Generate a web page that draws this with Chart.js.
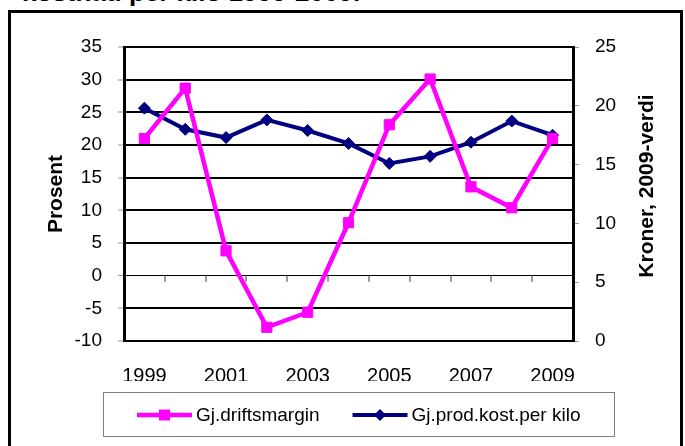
<!DOCTYPE html>
<html>
<head>
<meta charset="utf-8">
<script src="https://cdn.jsdelivr.net/npm/chart.js@4.4.1/dist/chart.umd.min.js"></script>
<style>
    html, body { margin: 0; padding: 0; background: #fff; overflow: hidden; }
    #tittel { position: absolute; left: 22px; top: -21px; font: bold 26px "Liberation Sans", Arial, sans-serif; line-height: 26px; white-space: nowrap; }
    #ramme { position: absolute; left: 8px; top: 10px; width: 669px; height: 470px; border: 3px solid #000; }
    #graf { position: absolute; left: 0; top: 0; }
</style>
</head>
<body>
<div id="tittel">kostnad per kilo 1999-2009.</div>
<div id="ramme"></div>
<canvas id="graf" width="685" height="446"></canvas>
<script>
// År og verdier lest av figuren
const aar = ['1999', '2000', '2001', '2002', '2003', '2004', '2005', '2006', '2007', '2008', '2009'];
const driftsmargin = [21, 28.7, 3.8, -7.9, -5.6, 8.1, 23.1, 30.1, 13.6, 10.4, 21];
const prodKost = [19.8, 18.0, 17.3, 18.8, 17.9, 16.8, 15.1, 15.7, 16.9, 18.7, 17.5];

// Akser
const prosentAkse = { min: -10, max: 35, steg: 5 };
const kronerAkse = { min: 0, max: 25, steg: 5 };
const hoyreTittel = 'Kroner, 2009-verdi';

const FONT = '"Liberation Sans", Arial, sans-serif';

// små grå streker på nullinja mellom kategoriene
const nullStreker = {
    id: 'nullStreker',
    afterDatasetsDraw(chart) {
        const x = chart.scales.x, y = chart.scales.y;
        const y0 = y.getPixelForValue(0);
        const halv = (x.getPixelForValue(1) - x.getPixelForValue(0)) / 2;
        const ctx = chart.ctx;
        ctx.save();
        ctx.strokeStyle = '#999';
        ctx.lineWidth = 2;
        for (let i = 0; i < aar.length - 1; i++) {
            const px = Math.round(x.getPixelForValue(i) + halv);
            ctx.beginPath();
            ctx.moveTo(px, y0);
            ctx.lineTo(px, y0 + 6);
            ctx.stroke();
        }
        ctx.restore();
    }
};

// høyre aksetittel leses nedenfra og opp, som i Excel
const hoyreAkseTittel = {
    id: 'hoyreAkseTittel',
    afterDraw(chart) {
        const ctx = chart.ctx;
        ctx.save();
        ctx.translate(647, 186);
        ctx.rotate(-Math.PI / 2);
        ctx.font = 'bold 21px ' + FONT;
        ctx.fillStyle = '#000';
        ctx.textAlign = 'center';
        ctx.textBaseline = 'middle';
        ctx.fillText(hoyreTittel, 0, 0);
        ctx.restore();
    }
};

// tegnforklaring med ramme
const legendeBoks = {
    id: 'legendeBoks',
    afterDraw(chart) {
        const ctx = chart.ctx;
        ctx.save();
        ctx.strokeStyle = '#808080';
        ctx.lineWidth = 1;
        ctx.strokeRect(103.5, 392.5, 511, 44);
        ctx.font = '19px ' + FONT;
        ctx.textBaseline = 'middle';
        ctx.fillStyle = '#000';
        let x = 137;
        const y = 415;
        chart.data.datasets.forEach(ds => {
            ctx.strokeStyle = ds.borderColor;
            ctx.fillStyle = ds.borderColor;
            ctx.lineWidth = ds.borderWidth;
            ctx.beginPath();
            ctx.moveTo(x, y);
            ctx.lineTo(x + 55, y);
            ctx.stroke();
            const mx = x + 27.5;
            ctx.beginPath();
            if (ds.pointStyle === 'rect') {
                ctx.rect(mx - 5.5, y - 5.5, 11, 11);
            } else {
                ctx.moveTo(mx, y - 6);
                ctx.lineTo(mx + 6, y);
                ctx.lineTo(mx, y + 6);
                ctx.lineTo(mx - 6, y);
                ctx.closePath();
            }
            ctx.fill();
            ctx.fillStyle = '#000';
            ctx.fillText(ds.label, x + 59, y + 1);
            x += 59 + ctx.measureText(ds.label).width + 33;
        });
        ctx.restore();
    }
};

new Chart(document.getElementById('graf'), {
    type: 'line',
    data: {
        labels: aar,
        datasets: [
            {
                label: 'Gj.driftsmargin',
                data: driftsmargin,
                yAxisID: 'y',
                borderColor: '#FF00FF',
                backgroundColor: '#FF00FF',
                borderWidth: 4.5,
                pointStyle: 'rect',
                pointRadius: 7.2,
                pointBorderWidth: 1,
                tension: 0
            },
            {
                label: 'Gj.prod.kost.per kilo',
                data: prodKost,
                yAxisID: 'y1',
                borderColor: '#000080',
                backgroundColor: '#000080',
                borderWidth: 4,
                pointStyle: 'rectRot',
                pointRadius: 6,
                pointBorderWidth: 1,
                tension: 0
            }
        ]
    },
    options: {
        responsive: false,
        animation: false,
        layout: { padding: { left: 30, right: 15, top: 47, bottom: 65 } },
        plugins: { legend: { display: false }, tooltip: { enabled: false } },
        scales: {
            x: {
                offset: true,
                grid: { display: false, drawTicks: false },
                border: { color: '#000', width: 2 },
                afterFit: s => { s.height = 40; },
                ticks: {
                    autoSkip: false,
                    maxRotation: 0,
                    padding: 23,
                    color: '#000',
                    font: { family: FONT, size: 20 },
                    callback: (v, i) => (i % 2 === 0 ? aar[i] : '')
                }
            },
            y: {
                position: 'left',
                min: prosentAkse.min,
                max: prosentAkse.max,
                afterFit: s => { s.width = 94; },
                ticks: { stepSize: prosentAkse.steg, padding: 16, color: '#000', font: { family: FONT, size: 19 } },
                grid: {
                    color: '#000',
                    lineWidth: c => (c.tick && c.tick.value === 0 ? 1 : 2),
                    tickColor: '#999',
                    tickLength: 6,
                    tickWidth: 1
                },
                border: { color: '#000', width: 3 },
                title: {
                    display: true,
                    text: 'Prosent',
                    color: '#000',
                    font: { family: FONT, size: 21, weight: 'bold' },
                    padding: { top: 14, bottom: 0 }
                }
            },
            y1: {
                position: 'right',
                min: kronerAkse.min,
                max: kronerAkse.max,
                afterFit: s => { s.width = 97; },
                ticks: { stepSize: kronerAkse.steg, padding: 16, color: '#000', font: { family: FONT, size: 19 } },
                grid: { drawOnChartArea: false, tickColor: '#999', tickLength: 6, tickWidth: 1 },
                border: { color: '#000', width: 3 }
            }
        }
    },
    plugins: [nullStreker, hoyreAkseTittel, legendeBoks]
});
</script>
</body>
</html>
